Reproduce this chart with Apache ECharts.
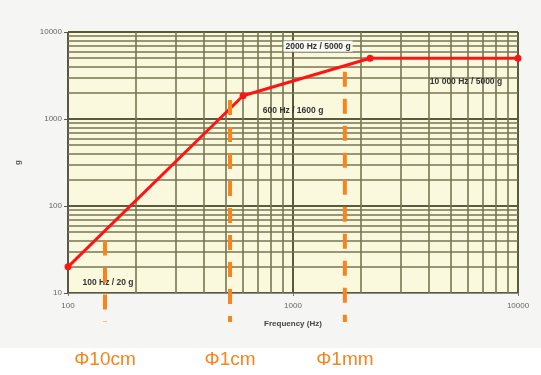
<!DOCTYPE html>
<html>
<head>
<meta charset="utf-8">
<script src="https://cdn.jsdelivr.net/npm/echarts@6/dist/echarts.min.js"></script>
<style>
  html, body { margin: 0; padding: 0; background: #ffffff; }
  #chart { width: 541px; height: 375px; }
</style>
</head>
<body>
<div id="chart"></div>
<script>
// curve points: frequency (Hz) and acceleration (g)
const freqs = [100, 600, 2200, 10000];
const accels = [20, 1850, 5000, 5000];
const pointLabels = ['100 Hz / 20 g', '600 Hz / 1600 g', '2000 Hz / 5000 g', '10 000 Hz / 5000 g'];

// particle-size markers: frequency, top of dashed line (g), caption
const markerFreqs = [146, 525, 1700];
const markerTops = [40, 1650, 3500];
const markerTexts = ['\u03A610cm', '\u03A61cm', '\u03A61mm'];

// minor log grid values
const minorX = [200, 300, 400, 500, 600, 700, 800, 900, 2000, 3000, 4000, 5000, 6000, 7000, 8000, 9000];
const minorY = [20, 30, 40, 50, 60, 70, 80, 90, 200, 300, 400, 500, 600, 700, 800, 900,
                2000, 3000, 4000, 5000, 6000, 7000, 8000, 9000];

const labelOffsets = [[40, 16], [50, 15], [-52, -12], [-52, 23]];

const chart = echarts.init(document.getElementById('chart'), null, { renderer: 'canvas' });

const tickFont = { color: '#666', fontSize: 8, fontFamily: 'Liberation Sans, Arial', formatter: v => String(v) };
const gridDark = '#5a5a3c';
const gridMinor = '#767652';

chart.setOption({
  animation: false,
  backgroundColor: '#f5f6f3',
  graphic: [{
    type: 'rect', z: -1, silent: true,
    shape: { x: 0, y: 348, width: 541, height: 27 },
    style: { fill: '#ffffff' }
  }],
  grid: {
    left: 68, right: 23, top: 32, bottom: 82,
    show: true,
    backgroundColor: '#faf9de',
    borderColor: '#a5a5a5',
    borderWidth: 1
  },
  xAxis: {
    type: 'log', logBase: 10, min: 100, max: 10000,
    name: 'Frequency (Hz)', nameLocation: 'middle', nameGap: 27,
    nameTextStyle: { color: '#444', fontSize: 8, fontWeight: 'bold', fontFamily: 'Liberation Sans, Arial' },
    axisLine: { lineStyle: { color: '#8a8a8a', width: 1 } },
    axisTick: { show: true, length: 3, lineStyle: { color: '#777' } },
    axisLabel: Object.assign({ margin: 9 }, tickFont),
    splitLine: { show: true, lineStyle: { color: gridDark, width: 2 } }
  },
  yAxis: {
    type: 'log', logBase: 10, min: 10, max: 10000,
    name: 'g', nameLocation: 'middle', nameGap: 46, nameRotate: 90,
    nameTextStyle: { color: '#555', fontSize: 8, fontWeight: 'bold' },
    axisLine: { lineStyle: { color: '#555', width: 1 } },
    axisTick: { show: true, length: 4, lineStyle: { color: '#555' } },
    axisLabel: Object.assign({ margin: 6 }, tickFont),
    splitLine: { show: true, lineStyle: { color: gridDark, width: 2 } }
  },
  series: [
    {
      type: 'line', data: [], silent: true,
      markLine: {
        silent: true, symbol: ['none', 'none'], animation: false,
        label: { show: false },
        lineStyle: { color: gridMinor, width: 1.6, type: 'solid' },
        data: minorX.map(v => ({ xAxis: v })).concat(minorY.map(v => ({ yAxis: v })))
      }
    },
    {
      type: 'line',
      data: freqs.map((f, i) => ({
        value: [f, accels[i]],
        label: {
          show: true, position: 'inside', offset: labelOffsets[i],
          formatter: pointLabels[i],
          color: '#333', fontSize: 8.5, fontWeight: 'bold', fontFamily: 'Liberation Sans, Arial',
          backgroundColor: i === 2 ? 'rgba(255,255,255,0.85)' : 'transparent',
          padding: [1, 2]
        }
      })),
      symbol: 'circle', symbolSize: 7,
      lineStyle: { color: '#ff1414', width: 3 },
      itemStyle: { color: '#ff1414' },
      z: 5
    }
  ]
});

// dashed orange size markers, anchored to the axes through the chart's scales
const bottomPx = chart.convertToPixel({ gridIndex: 0 }, [100, 10])[1] + 29;
const graphics = [{
  type: 'rect', z: -1, silent: true,
  shape: { x: 0, y: 348, width: 541, height: 27 },
  style: { fill: '#ffffff' }
}];
markerFreqs.forEach((f, i) => {
  const top = chart.convertToPixel({ gridIndex: 0 }, [f, markerTops[i]]);
  graphics.push({
    type: 'line', z: 10, silent: true,
    shape: { x1: top[0], y1: top[1], x2: top[0], y2: bottomPx },
    style: { stroke: '#f7841c', lineWidth: 4, lineDash: [15, 12] }
  });
  graphics.push({
    type: 'text', z: 10, silent: true,
    x: top[0], y: 360,
    style: {
      text: markerTexts[i], fill: '#f7841c', font: '19px "Liberation Sans", Arial',
      align: 'center', verticalAlign: 'middle'
    }
  });
});
chart.setOption({ graphic: graphics }, { replaceMerge: ['graphic'] });
</script>
</body>
</html>
